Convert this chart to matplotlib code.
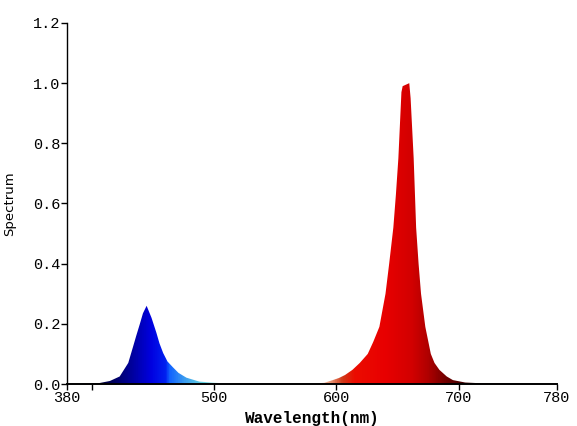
import numpy as np
import matplotlib
matplotlib.use("Agg")
import matplotlib.pyplot as plt
from matplotlib.colors import LinearSegmentedColormap
from matplotlib.patches import Polygon

# spectrum
wavelength = [380, 395, 405, 415, 423, 430, 434, 436.5, 439.5, 442, 445, 449, 451, 453,
              455.5, 458.5, 462, 466.6, 471, 477.5, 488, 505, 520, 560, 580, 590, 597,
              602, 607, 613, 619, 625.5, 630, 635, 640, 643, 646.4, 648.5, 650.5, 653, 654,
              659.4, 660.5, 663, 665, 667, 669, 672.5, 675, 677, 680, 684, 690, 695, 705,
              720, 750, 780]
spectrum = [0, 0.0005, 0.002, 0.01, 0.025, 0.07, 0.125, 0.16, 0.2, 0.235, 0.26, 0.22, 0.195, 0.17,
            0.135, 0.103, 0.075, 0.055, 0.037, 0.021, 0.008, 0.003, 0.001, 0.0005, 0.001, 0.004, 0.013,
            0.02, 0.03, 0.047, 0.07, 0.10, 0.14, 0.19, 0.30, 0.40, 0.52, 0.63, 0.75, 0.97, 0.99,
            1.0, 0.95, 0.75, 0.52, 0.40, 0.30, 0.19, 0.14, 0.10, 0.07, 0.047, 0.025, 0.013, 0.005,
            0.002, 0.001, 0.0]

# colour of the fill at each wavelength
color_wl = [380, 405, 420, 435, 448, 460, 463, 475, 490, 505, 540, 580, 595, 605, 615,
            640, 662, 675, 690, 705, 780]
color_hex = ['#000020', '#000030', '#00006a', '#0000a8', '#0000e0', '#0020f0', '#1060ff',
             '#3a9af0', '#60d0e0', '#c8f0f0', '#fff8f0', '#fff0e0', '#e89878', '#d03818',
             '#ec0c00', '#e80000', '#d20000', '#b00000', '#700000', '#400000', '#200000']

xticks = [380, 400, 500, 600, 700, 780]
xticklabels = ['380', '', '500', '600', '700', '780']
yticks = [0.0, 0.2, 0.4, 0.6, 0.8, 1.0, 1.2]

fig = plt.figure(figsize=(5.77, 4.26), dpi=100)
ax = fig.add_axes([67 / 577, 42 / 426, 490 / 577, 361 / 426])

cmap = LinearSegmentedColormap.from_list(
    'wl', [((w - 380) / 400, c) for w, c in zip(color_wl, color_hex)])
grad = np.linspace(380, 780, 1200).reshape(1, -1)
im = ax.imshow(grad, cmap=cmap, vmin=380, vmax=780, extent=[380, 780, 0, 1.2],
               aspect='auto', origin='lower', interpolation='bilinear')
shape = Polygon(np.column_stack([wavelength, spectrum]), closed=True,
                facecolor='none', edgecolor='none')
ax.add_patch(shape)
im.set_clip_path(shape)

ax.set_xlim(380, 780)
ax.set_ylim(0, 1.2)
ax.spines['top'].set_visible(False)
ax.spines['right'].set_visible(False)
ax.spines['left'].set_linewidth(1.0)
ax.spines['bottom'].set_linewidth(1.4)

mono = 'Liberation Mono'
ax.set_xticks(xticks)
ax.set_xticklabels(xticklabels, family=mono, fontsize=11)
ax.set_yticks(yticks)
ax.set_yticklabels(['%.1f' % v for v in yticks], family=mono, fontsize=11)
ax.tick_params(axis='both', direction='out', length=4, width=1, pad=1)

ax.set_xlabel('Wavelength(nm)', family=mono, fontweight='bold', fontsize=11.5)
ax.xaxis.set_label_coords(0.5, -0.075)
ax.set_ylabel('Spectrum', family='DejaVu Sans', fontsize=9.5)
ax.yaxis.set_label_coords(-0.104, 0.5)

plt.savefig('out.png', dpi=100)
